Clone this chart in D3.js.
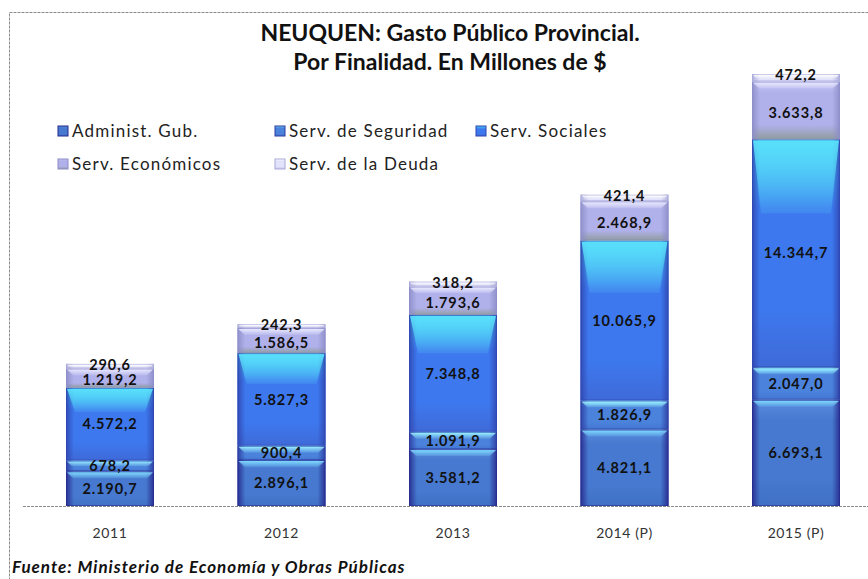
<!DOCTYPE html>
<html>
<head>
<meta charset="utf-8">
<script src="https://cdn.jsdelivr.net/npm/d3@7/dist/d3.min.js"></script>
<style>
  html, body { margin: 0; padding: 0; background: #ffffff; }
  svg { display: block; }
  text { font-family: Lato, "Open Sans", "Noto Sans", sans-serif; }
</style>
</head>
<body>
<svg id="chart" width="868" height="579"></svg>
<script>
// Years on the category axis
const years = ["2011", "2012", "2013", "2014 (P)", "2015 (P)"];

// Series names, bottom to top of each stack
const seriesNames = ["Administ. Gub.", "Serv. de Seguridad", "Serv. Sociales", "Serv. Económicos", "Serv. de la Deuda"];

// Spending by purpose, millions of $
const administGub   = [2190.7, 2896.1, 3581.2, 4821.1, 6693.1];
const servSeguridad = [678.2, 900.4, 1091.9, 1826.9, 2047.0];
const servSociales  = [4572.2, 5827.3, 7348.8, 10065.9, 14344.7];
const servEconomicos = [1219.2, 1586.5, 1793.6, 2468.9, 3633.8];
const servDeuda     = [290.6, 242.3, 318.2, 421.4, 472.2];

const seriesValues = [administGub, servSeguridad, servSociales, servEconomicos, servDeuda];

const titleLines = ["NEUQUEN: Gasto Público Provincial.", "Por Finalidad. En Millones de $"];
const sourceText = "Fuente: Ministerio de Economía y Obras Públicas";

// Fill palette for each series: [top, body, bottom, edge, highlight]
const palette = [
  { top: "#5a8ee0", body: "#4679cf", bottom: "#3f70c4", edge: "#27288c", hi: "#7fdcff" },
  { top: "#6fd8fb", body: "#4a82dc", bottom: "#4476d2", edge: "#2d3a9e", hi: "#9aeeff" },
  { top: "#45ccf4", body: "#3d78ee", bottom: "#3f6ad8", edge: "#2f46b0", hi: "#5ae0fb" },
  { top: "#c6c6f4", body: "#b0b0ea", bottom: "#909c9e", edge: "#8c8cc8", hi: "#e8e8ff" },
  { top: "#ffffff", body: "#e2e2fa", bottom: "#c8c8ee", edge: "#a8a8d8", hi: "#ffffff" }
];

const fmt = d3.formatLocale({ decimal: ",", thousands: ".", grouping: [3], currency: ["$", ""] }).format(",.1f");

const svg = d3.select("#chart");
const W = 868, H = 579;

// Outer dashed frame (runs past the right/bottom of the page)
svg.append("rect")
  .attr("x", 9.5).attr("y", 12.5)
  .attr("width", 1000).attr("height", 1000)
  .attr("fill", "none")
  .attr("stroke", "#8a8a8a")
  .attr("stroke-width", 1)
  .attr("stroke-dasharray", "3,1");

// Scales
const baseY = 506;
const x = d3.scaleBand()
  .domain(years)
  .range([24.25, 881.75])
  .paddingInner(0.487)
  .paddingOuter(0.2435);

const y = d3.scaleLinear()
  .domain([0, 30000])
  .range([baseY, 29.4]);

// Stack the series
const table = years.map((yr, i) => {
  const row = { year: yr };
  seriesNames.forEach((s, k) => { row[s] = seriesValues[k][i]; });
  return row;
});
const stacked = d3.stack().keys(seriesNames)(table);

// Gradients
const defs = svg.append("defs");
palette.forEach((p, k) => {
  const g = defs.append("linearGradient")
    .attr("id", "vg" + k).attr("x1", 0).attr("y1", 0).attr("x2", 0).attr("y2", 1);
  g.append("stop").attr("offset", "0%").attr("stop-color", p.top);
  g.append("stop").attr("offset", k === 2 ? "30%" : "20%").attr("stop-color", p.body);
  g.append("stop").attr("offset", "75%").attr("stop-color", p.body);
  g.append("stop").attr("offset", "100%").attr("stop-color", p.bottom);

  const h = defs.append("linearGradient")
    .attr("id", "hg" + k).attr("x1", 0).attr("y1", 0).attr("x2", 1).attr("y2", 0);
  h.append("stop").attr("offset", "0%").attr("stop-color", p.edge).attr("stop-opacity", 0.9);
  h.append("stop").attr("offset", "9%").attr("stop-color", p.edge).attr("stop-opacity", 0.0);
  h.append("stop").attr("offset", "91%").attr("stop-color", p.edge).attr("stop-opacity", 0.0);
  h.append("stop").attr("offset", "100%").attr("stop-color", p.edge).attr("stop-opacity", 0.9);

  const t = defs.append("linearGradient")
    .attr("id", "tg" + k).attr("x1", 0).attr("y1", 0).attr("x2", 0).attr("y2", 1);
  t.append("stop").attr("offset", "0%").attr("stop-color", p.hi).attr("stop-opacity", 0.95);
  t.append("stop").attr("offset", "100%").attr("stop-color", p.hi).attr("stop-opacity", 0.15);
});

// Bars
const bw = x.bandwidth();
const layers = svg.append("g").attr("class", "bars")
  .selectAll("g").data(stacked).join("g");

layers.each(function (layer, k) {
  const g = d3.select(this);
  layer.forEach((d, i) => {
    const x0 = x(years[i]);
    const yTop = y(d[1]);
    const yBot = y(d[0]);
    const h = yBot - yTop;
    const seg = g.append("g");
    seg.append("rect")
      .attr("x", x0).attr("y", yTop).attr("width", bw).attr("height", h)
      .attr("fill", "url(#vg" + k + ")");
    seg.append("rect")
      .attr("x", x0).attr("y", yTop).attr("width", bw).attr("height", h)
      .attr("fill", "url(#hg" + k + ")");
    // bevel highlight along the top edge of the segment
    const hh = Math.min(k === 2 ? h * 0.32 : 6, h * 0.45);
    const inset = Math.min(8, hh);
    seg.append("path")
      .attr("d", `M${x0 + 1},${yTop + 1} L${x0 + bw - 1},${yTop + 1} L${x0 + bw - 1 - inset},${yTop + 1 + hh} L${x0 + 1 + inset},${yTop + 1 + hh} Z`)
      .attr("fill", "url(#tg" + k + ")");
    seg.append("rect")
      .attr("x", x0 + 0.5).attr("y", yTop + 0.5).attr("width", bw - 1).attr("height", Math.max(0, h - 1))
      .attr("fill", "none").attr("stroke", palette[k].edge).attr("stroke-opacity", 0.55).attr("stroke-width", 1);
  });
});

// Value labels, centred in each segment; the thin top slice sits on the bar's top edge
const labels = svg.append("g").attr("class", "values");
stacked.forEach((layer, k) => {
  layer.forEach((d, i) => {
    const cy = k === 4 ? y(d[1]) + 1 : (y(d[0]) + y(d[1])) / 2 + (k === 3 ? 2 : 0);
    labels.append("text")
      .attr("x", x(years[i]) + bw / 2)
      .attr("y", cy)
      .attr("dy", "0.36em")
      .attr("text-anchor", "middle")
      .attr("font-size", 14.5)
      .attr("font-weight", "bold")
      .attr("letter-spacing", "0.9px")
      .attr("fill", "#111")
      .text(fmt(seriesValues[k][i]));
  });
});

// Category axis
const axis = svg.append("g").attr("transform", `translate(0,${baseY})`)
  .call(d3.axisBottom(x).tickSize(0).tickPadding(22));
axis.select(".domain").remove();
axis.append("line")
  .attr("x1", 23).attr("x2", W).attr("y1", 0.5).attr("y2", 0.5)
  .attr("stroke", "#8a8a8a").attr("stroke-dasharray", "3,1");
axis.selectAll(".tick text")
  .attr("font-family", "Lato, 'Open Sans', sans-serif")
  .attr("font-size", 14)
  .attr("letter-spacing", "0.6px")
  .attr("fill", "#333");

// Title
svg.append("g").selectAll("text").data(titleLines).join("text")
  .attr("x", 450)
  .attr("y", (d, i) => 41 + i * 29)
  .attr("text-anchor", "middle")
  .attr("font-size", 23)
  .attr("font-weight", "bold")
  .attr("fill", "#111")
  .text(d => d);

// Legend
const legendPos = [
  [58, 131], [275, 131], [476, 131],
  [58, 164], [275, 164]
];
const legend = svg.append("g").attr("class", "legend");
seriesNames.forEach((name, k) => {
  const [lx, ly] = legendPos[k];
  legend.append("rect")
    .attr("x", lx).attr("y", ly - 5).attr("width", 10).attr("height", 10)
    .attr("fill", "url(#vg" + k + ")")
    .attr("stroke", palette[k].edge).attr("stroke-width", 1);
  legend.append("text")
    .attr("x", lx + 14).attr("y", ly).attr("dy", "0.35em")
    .attr("font-size", 17).attr("fill", "#222")
    .attr("letter-spacing", "1.2px")
    .text(name);
});

// Source note
svg.append("text")
  .attr("x", 12).attr("y", 573)
  .attr("font-size", 17)
  .attr("font-weight", "bold")
  .attr("font-style", "italic")
  .attr("letter-spacing", "1px")
  .attr("fill", "#111")
  .text(sourceText);
</script>
</body>
</html>
